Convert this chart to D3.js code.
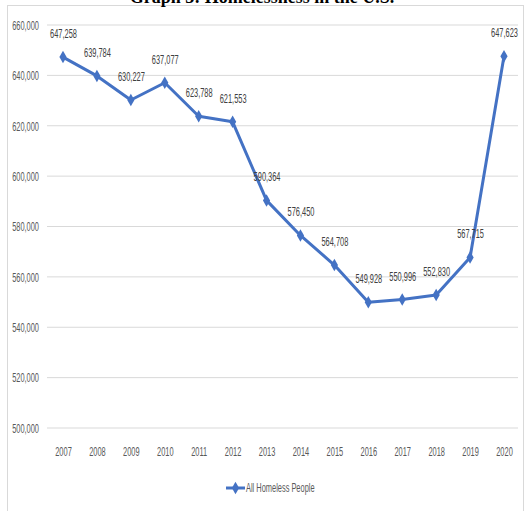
<!DOCTYPE html>
<html><head><meta charset="utf-8">
<script src="https://cdn.jsdelivr.net/npm/d3@7"></script>
<style>body{margin:0;background:#fff}svg{display:block}</style>
</head><body>
<script>
const years = ["2007","2008","2009","2010","2011","2012","2013","2014","2015","2016","2017","2018","2019","2020"];
const values = [647258,639784,630227,637077,623788,621553,590364,576450,564708,549928,550996,552830,567715,647623];
const yTicks = [500000,520000,540000,560000,580000,600000,620000,640000,660000];
const seriesName = "All Homeless People";
const title = "Graph 3: Homelessness in the U.S.";

const W=526,H=511;
const svg=d3.select("body").append("svg").attr("width",W).attr("height",H);
const font='"Liberation Sans",Arial,sans-serif';
const fs=12, sx=0.62;
const col="#4472C4";

svg.append("rect").attr("x",7.5).attr("y",5.5).attr("width",516).attr("height",510).attr("fill","#fff").attr("stroke","#d9d9d9");

svg.append("text").attr("x",262).attr("y",3).attr("text-anchor","middle")
  .attr("font-family",'"Liberation Serif","Times New Roman",serif').attr("font-weight","bold").attr("font-size",18)
  .attr("fill","#000").text(title);

const x=d3.scalePoint().domain(years).range([63,504]);
const y=d3.scaleLinear().domain([500000,660000]).range([428,25]);

function ctext(sel, px, py, anchor, fill, str){
  return sel.append("text").attr("transform",`translate(${px},${py}) scale(${sx},1)`)
    .attr("text-anchor",anchor).attr("font-family",font).attr("font-size",fs).attr("fill",fill).text(str);
}

svg.selectAll("line.grid").data(yTicks).enter().append("line")
  .attr("x1",47).attr("x2",518).attr("y1",d=>y(d)).attr("y2",d=>y(d))
  .attr("stroke","#d9d9d9").attr("stroke-width",1);

const yAxis=d3.axisLeft(y).tickValues(yTicks).tickFormat(d3.format(",")).tickSize(0).tickPadding(0);
const ya=svg.append("g").attr("transform","translate(39,0)").call(yAxis);
ya.select(".domain").remove();
ya.selectAll(".tick text").attr("font-family",font).attr("font-size",fs).attr("fill","#595959")
  .attr("dy",null).attr("x",null).attr("transform",`translate(0,4.3) scale(${sx},1)`).attr("text-anchor","end");

const xAxis=d3.axisBottom(x).tickSize(0).tickPadding(0);
const xa=svg.append("g").attr("transform","translate(0,456)").call(xAxis);
xa.select(".domain").remove();
xa.selectAll(".tick text").attr("font-family",font).attr("font-size",fs).attr("fill","#595959")
  .attr("dy",null).attr("y",null).attr("transform",`scale(${sx},1)`);

const line=d3.line().x((d,i)=>x(years[i])).y(d=>y(d));
svg.append("path").datum(values).attr("d",line).attr("fill","none").attr("stroke",col).attr("stroke-width",3).attr("stroke-linejoin","round");

const diamond=d3.symbol().type(d3.symbolDiamond).size(45);
svg.selectAll("path.m").data(values).enter().append("path")
  .attr("transform",(d,i)=>`translate(${x(years[i])},${y(d)})`).attr("d",diamond).attr("fill",col);

const lblG=svg.append("g");
values.forEach((v,i)=>ctext(lblG, x(years[i])+0.5, y(v)-19, "middle", "#404040", d3.format(",")(v)));

// legend
const lg=svg.append("g").attr("transform","translate(226,488)");
lg.append("line").attr("x1",0).attr("x2",19).attr("y1",0).attr("y2",0).attr("stroke",col).attr("stroke-width",3);
lg.append("path").attr("transform","translate(9.5,0)").attr("d",diamond).attr("fill",col);
ctext(lg, 20, 4.3, "start", "#595959", seriesName);
</script>
</body></html>
